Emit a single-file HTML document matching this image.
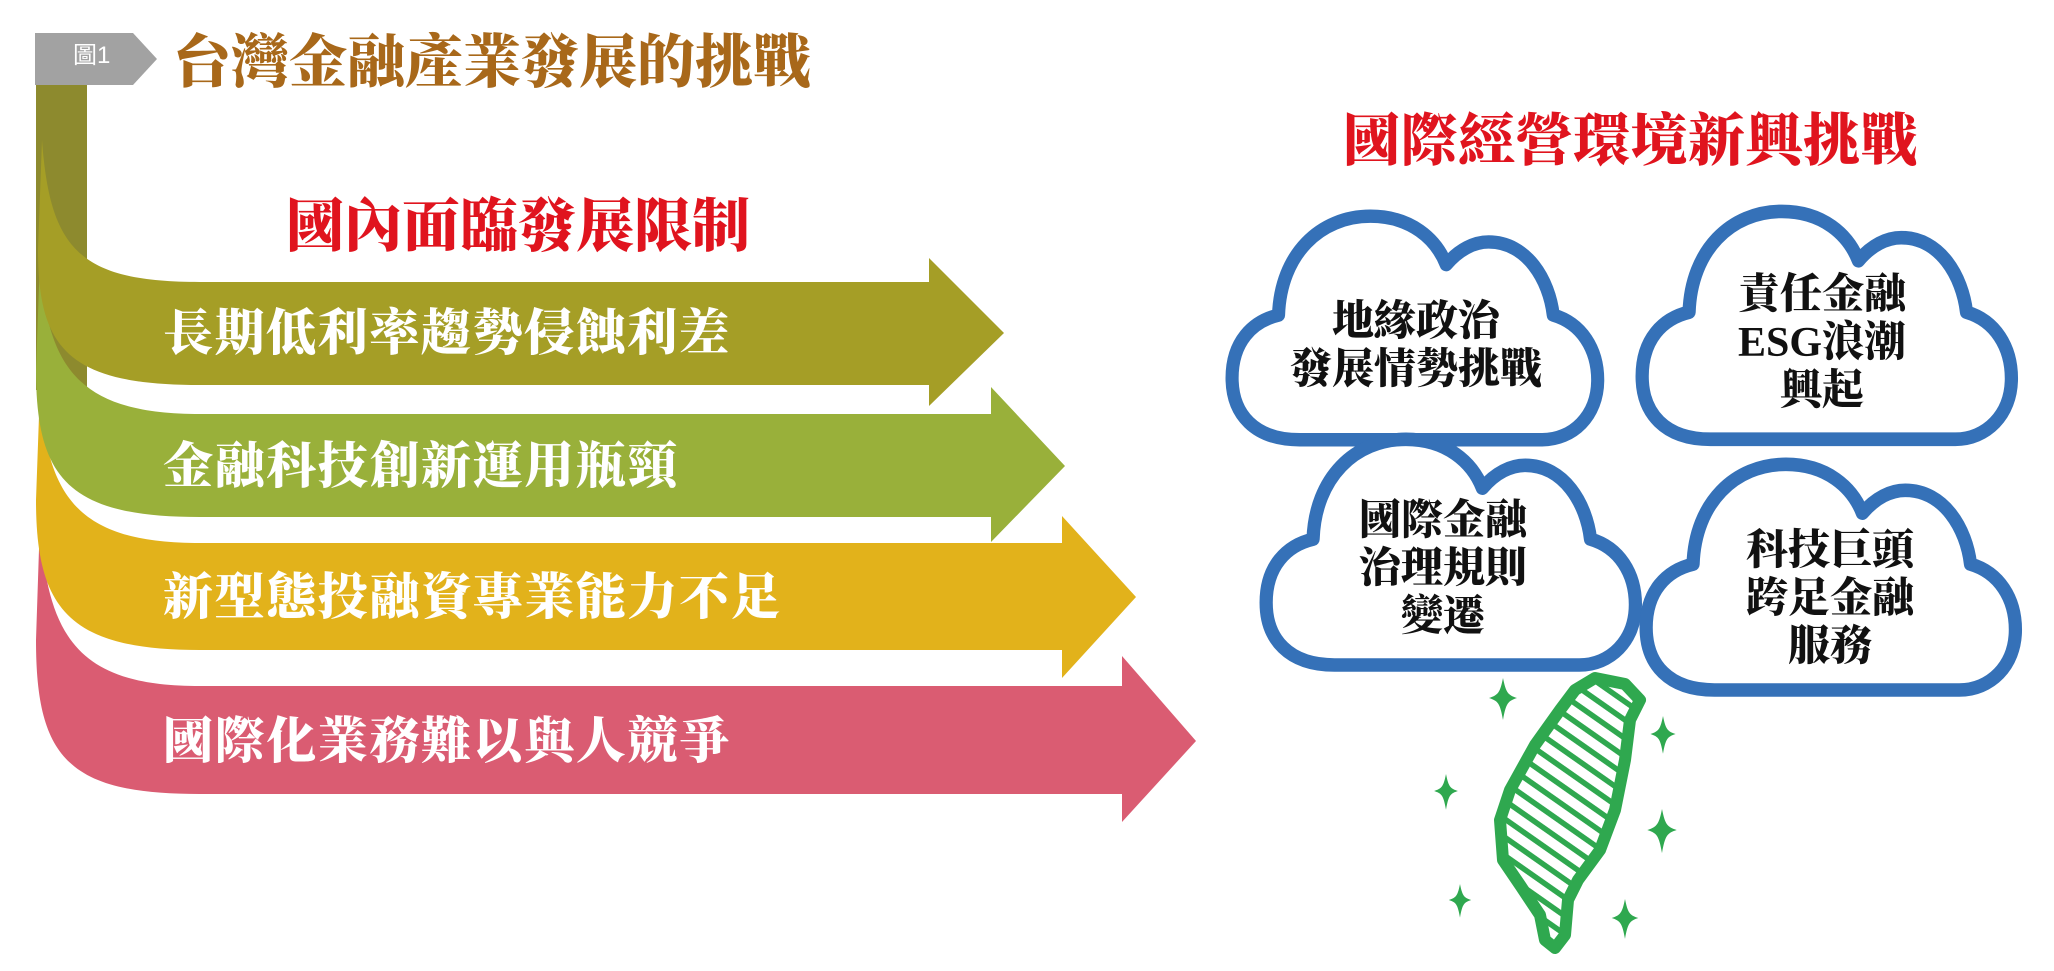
<!DOCTYPE html>
<html><head><meta charset="utf-8">
<style>
html,body{margin:0;padding:0;background:#fff;}
body{width:2054px;height:971px;position:relative;overflow:hidden;}
svg{position:absolute;left:0;top:0;}
.t{position:absolute;white-space:nowrap;font-family:"Liberation Serif","Noto Serif CJK SC","Noto Sans CJK TC",serif;font-weight:900;line-height:1;}
.w{color:#fff;font-size:50px;letter-spacing:1.6px;}
.c{color:#111;font-size:42px;text-align:center;line-height:48px;}
</style></head><body>
<svg width="2054" height="971" viewBox="0 0 2054 971">
  <defs>
    <g id="cloud">
      <path d="M75,225 C30,225 8,200 8,165 C8,130 28,110 54,104 C56,45 95,8 145,8 C185,8 210,30 220,55 C233,40 248,33 262,33 C300,33 322,70 326,104 C354,112 370,137 370,167 C370,202 345,225 315,225 Z" fill="#fff" stroke="#3571b8" stroke-width="13" stroke-linejoin="round"/>
    </g>
    <pattern id="st" patternUnits="userSpaceOnUse" width="15" height="15" patternTransform="rotate(35)">
      <rect width="15" height="15" fill="#fff"/>
      <rect width="15" height="5.5" fill="#2fa84f"/>
    </pattern>
    <path id="spk" d="M0,-20 C3,-5 5,-3 14,0 C5,3 3,5 0,22 C-3,5 -5,3 -14,0 C-5,-3 -3,-5 0,-20 Z" fill="#2fa84f"/>
  </defs>
  <path d="M35,33 L133,33 L157,59 L133,85 L35,85 Z" fill="#a2a2a2"/>
  <rect x="36" y="85" width="51" height="305" fill="#8d8a2e"/>
  <path d="M40,519 C46,640 80,686 200,686 L1122,686 L1122,656 L1196,741 L1122,822 L1122,794 L200,794 C70,794 36,760 36,640 Z" fill="#da5c72"/>
  <path d="M40,388 C46,500 80,543 200,543 L1062,543 L1062,516 L1136,597 L1062,678 L1062,650 L200,650 C70,650 36,610 36,500 Z" fill="#e2b21b"/>
  <path d="M40,258 C46,370 80,414 200,414 L991,414 L991,387 L1065,466 L991,542 L991,517 L200,517 C70,517 36,480 36,370 Z" fill="#99b03a"/>
  <path d="M42,140 C50,250 80,282 200,282 L929,282 L929,258 L1004,333 L929,406 L929,385 L200,385 C70,385 38,350 38,250 Z" fill="#a59e26"/>
  <g transform="translate(1224,208) scale(1.01,1.03)"><use href="#cloud"/></g>
  <g transform="translate(1634,203) scale(1.02,1.05)"><use href="#cloud"/></g>
  <g transform="translate(1258,431) scale(1.02,1.04)"><use href="#cloud"/></g>
  <g transform="translate(1638,456) scale(1.02,1.04)"><use href="#cloud"/></g>
  <path d="M1595,678 L1625,684 L1640,700 L1630,720 L1625,760 L1615,810 L1600,850 L1578,880 L1568,900 L1565,935 L1555,948 L1545,940 L1540,915 L1520,885 L1503,860 L1500,820 L1510,790 L1535,745 L1560,710 L1575,690 Z" fill="url(#st)" stroke="#2fa84f" stroke-width="12" stroke-linejoin="round"/>
  <use href="#spk" transform="translate(1503,698)"/>
  <use href="#spk" transform="translate(1663,734) scale(0.9)"/>
  <use href="#spk" transform="translate(1446,791) scale(0.85)"/>
  <use href="#spk" transform="translate(1662,830) scale(1.05)"/>
  <use href="#spk" transform="translate(1460,900) scale(0.8)"/>
  <use href="#spk" transform="translate(1625,918) scale(0.95)"/>
</svg>
<div class="t" style="left:73px;top:44px;font-size:24px;color:#fff;font-weight:400;font-family:'Liberation Sans','Noto Sans CJK TC',sans-serif;">圖1</div>
<div class="t" style="left:173px;top:34px;font-size:58px;color:#a8681a;">台灣金融產業發展的挑戰</div>
<div class="t" style="left:286px;top:198px;font-size:58px;color:#e0141e;">國內面臨發展限制</div>
<div class="t w" style="left:163px;top:308px;">長期低利率趨勢侵蝕利差</div>
<div class="t w" style="left:163px;top:441px;">金融科技創新運用瓶頸</div>
<div class="t w" style="left:163px;top:572px;">新型態投融資專業能力不足</div>
<div class="t w" style="left:163px;top:716px;">國際化業務難以與人競爭</div>
<div class="t" style="left:1343px;top:113px;font-size:57px;letter-spacing:0.5px;color:#e0141e;">國際經營環境新興挑戰</div>
<div class="t c" style="left:1236px;top:298px;width:360px;">地緣政治<br>發展情勢挑戰</div>
<div class="t c" style="left:1642px;top:271px;width:360px;">責任金融<br>ESG浪潮<br>興起</div>
<div class="t c" style="left:1263px;top:497px;width:360px;">國際金融<br>治理規則<br>變遷</div>
<div class="t c" style="left:1650px;top:527px;width:360px;">科技巨頭<br>跨足金融<br>服務</div>
</body></html>
